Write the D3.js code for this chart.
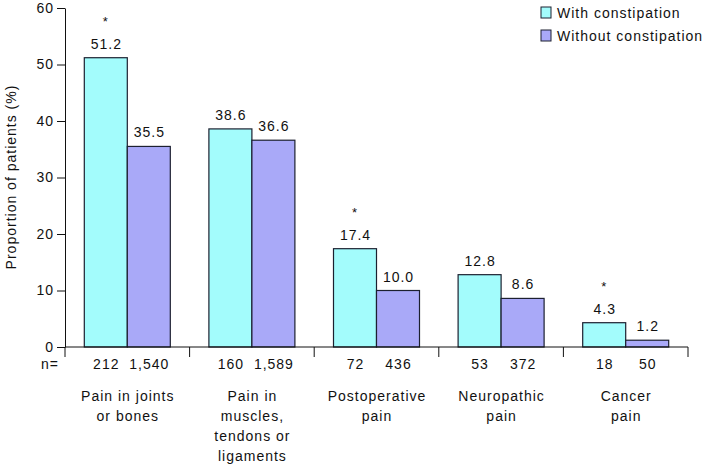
<!DOCTYPE html>
<html>
<head>
<meta charset="utf-8">
<script src="https://cdn.jsdelivr.net/npm/d3@7"></script>
<style>
  body { margin: 0; background: #fff; }
  text { font-family: "Liberation Sans", Arial, sans-serif; fill: #111; letter-spacing: 1px; }
</style>
</head>
<body>
<div id="chart"></div>
<script>
// data
const categories = [
  ["Pain in joints", "or bones"],
  ["Pain in", "muscles,", "tendons or", "ligaments"],
  ["Postoperative", "pain"],
  ["Neuropathic", "pain"],
  ["Cancer", "pain"]
];
const seriesNames = ["With constipation", "Without constipation"];
const withConst = [51.2, 38.6, 17.4, 12.8, 4.3];
const withoutConst = [35.5, 36.6, 10.0, 8.6, 1.2];
const nWith = ["212", "160", "72", "53", "18"];
const nWithout = ["1,540", "1,589", "436", "372", "50"];
const significant = [true, false, true, false, true];
const yTicks = [0, 10, 20, 30, 40, 50, 60];

const colors = ["#a3fcfc", "#a9a9f8"];

const width = 706, height = 466;
const margin = { top: 8, right: 18, bottom: 119, left: 65 };

const svg = d3.select("#chart").append("svg")
  .attr("width", width)
  .attr("height", height);

const x = d3.scaleBand()
  .domain(d3.range(categories.length))
  .range([margin.left, width - margin.right])
  .padding(0);

const y = d3.scaleLinear()
  .domain([0, 60])
  .range([height - margin.bottom, margin.top]);

const barW = 43;
const x0 = i => x(i) + (x.bandwidth() - 2 * barW) / 2;

// y axis
svg.append("g")
  .attr("transform", `translate(${margin.left},0)`)
  .call(d3.axisLeft(y).tickValues(yTicks).tickSize(8).tickPadding(4).tickSizeOuter(0))
  .call(g => g.selectAll("text").attr("font-size", 14).attr("dx", 1)
    .style("font-family", "Liberation Sans, Arial, sans-serif").style("letter-spacing", "1px"))
  .call(g => g.selectAll("line,path").attr("stroke", "#111"));

svg.append("text")
  .attr("transform", "rotate(-90)")
  .attr("x", -177)
  .attr("y", 16)
  .attr("text-anchor", "middle")
  .attr("font-size", 14)
  .text("Proportion of patients (%)");

// bars
const groups = svg.append("g").selectAll("g")
  .data(categories)
  .join("g");

[withConst, withoutConst].forEach((vals, s) => {
  svg.append("g").selectAll("rect")
    .data(vals)
    .join("rect")
    .attr("x", (d, i) => x0(i) + s * barW)
    .attr("y", d => y(d))
    .attr("width", barW)
    .attr("height", d => y(0) - y(d))
    .attr("fill", colors[s])
    .attr("stroke", "#1c2030")
    .attr("stroke-width", 1.2);

  svg.append("g").selectAll("text")
    .data(vals)
    .join("text")
    .attr("x", (d, i) => x0(i) + s * barW + barW / 2 + 0.5)
    .attr("y", d => y(d) - 9)
    .attr("text-anchor", "middle")
    .attr("font-size", 14)
    .text(d => d.toFixed(1));
});

// significance stars
svg.append("g").selectAll("text")
  .data(withConst)
  .join("text")
  .attr("x", (d, i) => x0(i) + barW / 2)
  .attr("y", d => y(d) - 32)
  .attr("text-anchor", "middle")
  .attr("font-size", 13)
  .text((d, i) => significant[i] ? "*" : "");

// x axis with separator ticks
const xAxisY = y(0);
svg.append("line")
  .attr("x1", margin.left).attr("x2", width - margin.right)
  .attr("y1", xAxisY).attr("y2", xAxisY)
  .attr("stroke", "#111");
svg.append("g").selectAll("line")
  .data(d3.range(categories.length + 1))
  .join("line")
  .attr("x1", i => i < categories.length ? x(i) : x(i - 1) + x.bandwidth())
  .attr("x2", i => i < categories.length ? x(i) : x(i - 1) + x.bandwidth())
  .attr("y1", xAxisY)
  .attr("y2", xAxisY + 10)
  .attr("stroke", "#111");

// n= row
svg.append("text")
  .attr("x", 41).attr("y", xAxisY + 22)
  .attr("font-size", 14)
  .text("n=");
[nWith, nWithout].forEach((vals, s) => {
  svg.append("g").selectAll("text")
    .data(vals)
    .join("text")
    .attr("x", (d, i) => x0(i) + s * barW + barW / 2 + 0.5)
    .attr("y", xAxisY + 22)
    .attr("text-anchor", "middle")
    .attr("font-size", 14)
    .text(d => d);
});

// category labels
groups.append("text")
  .attr("x", (d, i) => x(i) + x.bandwidth() / 2 + 0.5)
  .attr("y", xAxisY + 54)
  .attr("text-anchor", "middle")
  .attr("font-size", 14)
  .selectAll("tspan")
  .data(d => d)
  .join("tspan")
  .attr("x", function() { return d3.select(this.parentNode).attr("x"); })
  .attr("dy", (d, j) => j === 0 ? 0 : 20)
  .text(d => d);

// legend
const legend = svg.append("g").attr("transform", "translate(541,7)");
seriesNames.forEach((name, s) => {
  legend.append("rect")
    .attr("x", 0).attr("y", s * 23)
    .attr("width", 10).attr("height", 11)
    .attr("fill", colors[s])
    .attr("stroke", "#1c2030");
  legend.append("text")
    .attr("x", 16).attr("y", s * 23 + 11)
    .attr("font-size", 14)
    .text(name);
});
</script>
</body>
</html>
